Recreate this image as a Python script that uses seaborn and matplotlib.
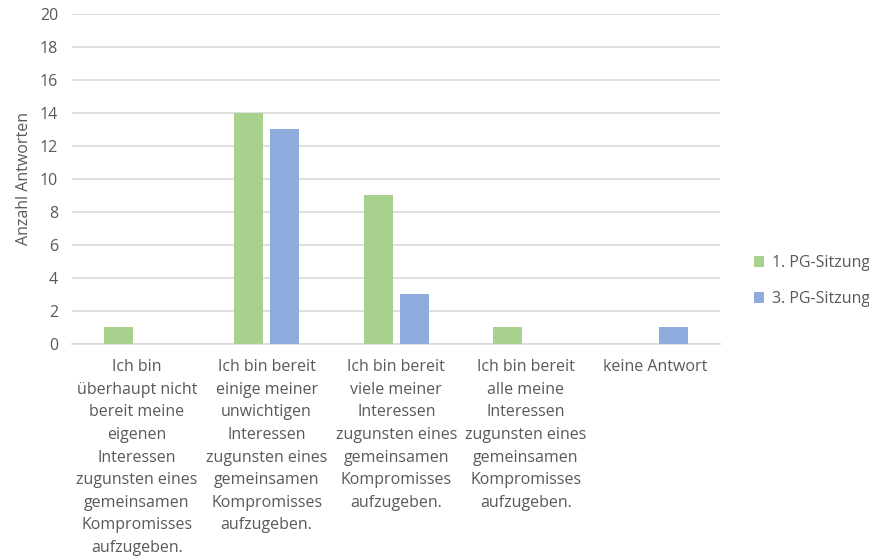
import pandas as pd
import matplotlib.pyplot as plt
import seaborn as sns

sns.set_style("white")
plt.rcParams['font.family'] = ['Open Sans', 'DejaVu Sans']

# data
categories = [
    "Ich bin\nüberhaupt nicht\nbereit meine\neigenen\nInteressen\nzugunsten eines\ngemeinsamen\nKompromisses\naufzugeben.",
    "Ich bin bereit\neinige meiner\nunwichtigen\nInteressen\nzugunsten eines\ngemeinsamen\nKompromisses\naufzugeben.",
    "Ich bin bereit\nviele meiner\nInteressen\nzugunsten eines\ngemeinsamen\nKompromisses\naufzugeben.",
    "Ich bin bereit\nalle meine\nInteressen\nzugunsten eines\ngemeinsamen\nKompromisses\naufzugeben.",
    "keine Antwort",
]
sitzung_1 = [1, 14, 9, 1, 0]
sitzung_3 = [0, 13, 3, 0, 1]
series = ["1. PG-Sitzung", "3. PG-Sitzung"]
colors = ["#A9D18E", "#8FAADC"]

df = pd.DataFrame({
    "Kategorie": categories * 2,
    "Anzahl": sitzung_1 + sitzung_3,
    "Sitzung": [series[0]] * 5 + [series[1]] * 5,
})

grey = "#595959"
fs = 11.5
fig = plt.figure(figsize=(8.69, 5.60), dpi=100)
ax = fig.add_axes([0.083, 0.386, 0.746, 0.589])

sns.barplot(data=df, x="Kategorie", y="Anzahl", hue="Sitzung",
            palette=colors, saturation=1, width=0.56, gap=0.2,
            linewidth=0, edgecolor="none", ax=ax, zorder=3)

ax.set_ylim(0, 20)
ax.set_yticks(range(0, 21, 2))
ax.yaxis.grid(True, color="#D9D9D9", linewidth=1.2, zorder=0)
ax.set_axisbelow(True)
for s in ["top", "right", "left"]:
    ax.spines[s].set_visible(False)
ax.spines["bottom"].set_color("#D9D9D9")
ax.spines["bottom"].set_linewidth(1.2)
ax.tick_params(axis="both", length=0, colors=grey, labelsize=fs, pad=10)
ax.tick_params(axis="x", pad=11)
for lbl in ax.get_xticklabels():
    lbl.set_linespacing(1.55)
ax.set_xlabel("")
ax.set_ylabel("Anzahl Antworten", color=grey, fontsize=fs, labelpad=6)

leg = ax.legend(loc="center left", bbox_to_anchor=(1.03, 0.19), frameon=False,
                fontsize=fs, handlelength=0.6, handleheight=0.6,
                handletextpad=0.5, labelspacing=1.25)
for t in leg.get_texts():
    t.set_color(grey)

fig.savefig("out.png", dpi=100)
